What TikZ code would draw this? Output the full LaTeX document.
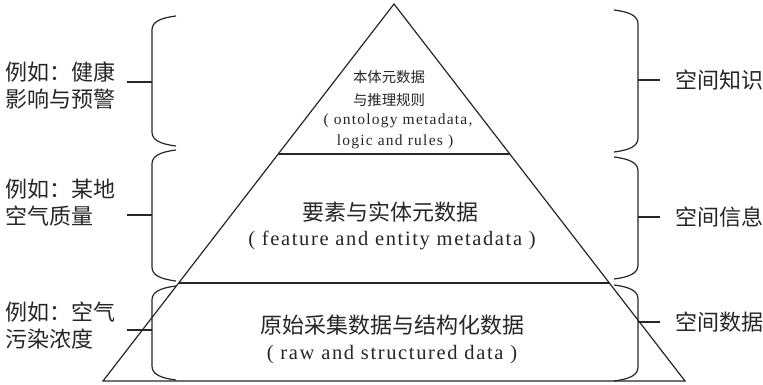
\documentclass[tikz,border=0pt]{standalone}
\usepackage{fontspec}
\setmainfont{Liberation Serif}
\newfontfamily\cjkf{Noto Sans CJK SC}
\newfontfamily\enf[LetterSpace=8]{Liberation Serif}
\usetikzlibrary{calc}
\newcommand\mybrace[5]{%
  \draw[ln] (#2,#3) .. controls ({#1+#5*8},#3+2) and (#1,#3+6) .. (#1,#3+14)
    -- (#1,#4-14) .. controls (#1,#4-6) and ({#1+#5*8},#4-2) .. (#2,#4);}
\tikzset{
  ln/.style={line width=1.2pt, black!85},
  zhbig/.style={font=\cjkf\fontsize{22}{28}\selectfont, text=black!85, inner sep=0pt, align=center},
  zhsml/.style={font=\cjkf\fontsize{14.4}{18}\selectfont, text=black!85, inner sep=0pt, align=center},
  enbig/.style={font=\enf\fontsize{20.5}{24}\selectfont, text=black!85, inner sep=0pt},
  ensml/.style={font=\enf\fontsize{15.5}{18}\selectfont, text=black!85, inner sep=0pt},
  sidelab/.style={font=\cjkf\fontsize{22}{27}\selectfont, text=black!85, inner sep=0pt, align=left, anchor=west},
}
\begin{document}
\begin{tikzpicture}[x=1pt,y=-1pt]
\useasboundingbox (0,0) rectangle (763,385);
% pyramid
\coordinate (A) at (394,4);
\coordinate (B) at (103,381);
\coordinate (C) at (685,381);
\draw[ln, line join=miter] (A) -- (B) -- (C) -- cycle;
\coordinate (L1) at ($(A)!{150/377}!(B)$);
\coordinate (R1) at ($(A)!{150/377}!(C)$);
\coordinate (L2) at ($(A)!{279/377}!(B)$);
\coordinate (R2) at ($(A)!{279/377}!(C)$);
\draw[ln] (L1) -- (R1);
\draw[ln] (L2) -- (R2);
% pyramid texts
\node[zhsml] (t1) at (389,77) {本体元数据};
\node[zhsml] (t2) at (389,100) {与推理规则};
\node[ensml] (t3) at (398,121) {( ontology metadata,};
\node[ensml] (t4) at (395,142) {logic and rules )};
\node[zhbig] (m1) at (390,212) {要素与实体元数据};
\node[enbig] (m2) at (392,240) {( feature and entity metadata )};
\node[zhbig] (b1) at (392,325) {原始采集数据与结构化数据};
\node[enbig] (b2) at (392,355) {( raw and structured data )};
% left braces
\mybrace{152}{176}{16}{146}{1}
\mybrace{152}{176}{150}{281}{1}
\mybrace{152}{176}{286}{380}{1}
% right braces
\mybrace{638}{614}{10}{152}{-1}
\mybrace{638}{614}{157}{279}{-1}
\mybrace{638}{614}{285}{381}{-1}
% left labels
\node[sidelab] (l1) at (5,86) {例如：健康\\影响与预警};
\node[sidelab] (l2) at (5,203) {例如：某地\\空气质量};
\node[sidelab] (l3) at (5,326) {例如：空气\\污染浓度};
\coordinate (lb1) at (152,82);
\coordinate (lb2) at (152,215);
\coordinate (lb3) at (152,330);
\draw[ln] (lb1) -- ++(-25,0);
\draw[ln] (lb2) -- ++(-25,0);
\draw[ln] (lb3) -- ++(-25,0);
% right labels
\node[sidelab] (r1) at (675,80) {空间知识};
\node[sidelab] (r2) at (675,217) {空间信息};
\node[sidelab] (r3) at (675,322) {空间数据};
\coordinate (rb1) at (638,80);
\coordinate (rb2) at (638,217);
\coordinate (rb3) at (638,322);
\draw[ln] (rb1) -- ++(22,0);
\draw[ln] (rb2) -- ++(22,0);
\draw[ln] (rb3) -- ++(22,0);
\end{tikzpicture}
\end{document}
